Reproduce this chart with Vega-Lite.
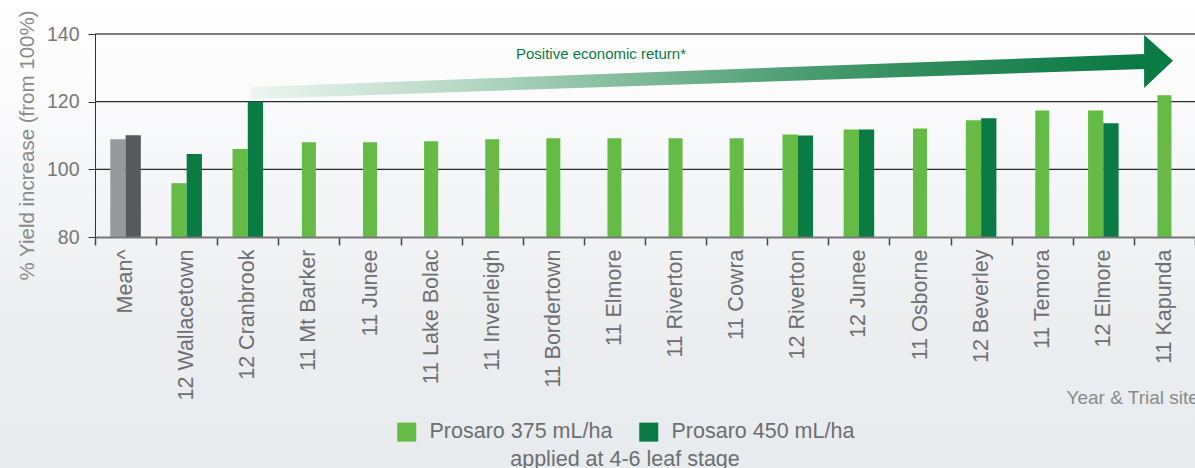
{
  "$schema": "https://vega.github.io/schema/vega-lite/v6.json",
  "width": 1100,
  "height": 203,
  "autosize": "none",
  "padding": {"left": 95, "top": 34, "right": 0, "bottom": 231},
  "background": "#f4f5f6",
  "config": {
    "font": "Liberation Sans",
    "view": {"stroke": null, "fill": null}
  },
  "datasets": {
    "bars": [
      {"site": "Mean^", "rate": "375", "series": "Mean 375", "value": 108.9},
      {"site": "Mean^", "rate": "450", "series": "Mean 450", "value": 110.1},
      {"site": "12 Wallacetown", "rate": "375", "series": "Prosaro 375 mL/ha", "value": 95.9},
      {"site": "12 Wallacetown", "rate": "450", "series": "Prosaro 450 mL/ha", "value": 104.5},
      {"site": "12 Cranbrook", "rate": "375", "series": "Prosaro 375 mL/ha", "value": 106.0},
      {"site": "12 Cranbrook", "rate": "450", "series": "Prosaro 450 mL/ha", "value": 120.0},
      {"site": "11 Mt Barker", "rate": "375", "series": "Prosaro 375 mL/ha", "value": 108.0},
      {"site": "11 Junee", "rate": "375", "series": "Prosaro 375 mL/ha", "value": 108.0},
      {"site": "11 Lake Bolac", "rate": "375", "series": "Prosaro 375 mL/ha", "value": 108.3},
      {"site": "11 Inverleigh", "rate": "375", "series": "Prosaro 375 mL/ha", "value": 108.9},
      {"site": "11 Bordertown", "rate": "375", "series": "Prosaro 375 mL/ha", "value": 109.2},
      {"site": "11 Elmore", "rate": "375", "series": "Prosaro 375 mL/ha", "value": 109.2},
      {"site": "11 Riverton", "rate": "375", "series": "Prosaro 375 mL/ha", "value": 109.2},
      {"site": "11 Cowra", "rate": "375", "series": "Prosaro 375 mL/ha", "value": 109.2},
      {"site": "12 Riverton", "rate": "375", "series": "Prosaro 375 mL/ha", "value": 110.3},
      {"site": "12 Riverton", "rate": "450", "series": "Prosaro 450 mL/ha", "value": 110.0},
      {"site": "12 Junee", "rate": "375", "series": "Prosaro 375 mL/ha", "value": 111.8},
      {"site": "12 Junee", "rate": "450", "series": "Prosaro 450 mL/ha", "value": 111.8},
      {"site": "11 Osborne", "rate": "375", "series": "Prosaro 375 mL/ha", "value": 112.1},
      {"site": "12 Beverley", "rate": "375", "series": "Prosaro 375 mL/ha", "value": 114.5},
      {"site": "12 Beverley", "rate": "450", "series": "Prosaro 450 mL/ha", "value": 115.1},
      {"site": "11 Temora", "rate": "375", "series": "Prosaro 375 mL/ha", "value": 117.4},
      {"site": "12 Elmore", "rate": "375", "series": "Prosaro 375 mL/ha", "value": 117.4},
      {"site": "12 Elmore", "rate": "450", "series": "Prosaro 450 mL/ha", "value": 113.6},
      {"site": "11 Kapunda", "rate": "375", "series": "Prosaro 375 mL/ha", "value": 121.9}
    ],
    "backdrop": [
      {"u0": -1.7, "u1": 18.2, "v0": 10.5, "v1": 151.5}
    ],
    "gridlines": [
      {"v": 100}, {"v": 120}, {"v": 140}
    ],
    "arrow": [
      {"u": 2.546, "top": 124.33, "bottom": 120.79},
      {"u": 17.167, "top": 134.09, "bottom": 129.66},
      {"u": 17.168, "top": 139.7, "bottom": 124.04},
      {"u": 17.64, "top": 132.11, "bottom": 132.11}
    ],
    "note": [
      {"u": 8.28, "v": 132.5, "label": "Positive economic return*"}
    ]
  },
  "layer": [
    {
      "data": {"name": "backdrop"},
      "mark": {"type": "rect", "clip": false, "color": {"gradient": "linear", "x1": 0, "y1": 0, "x2": 0, "y2": 1, "stops": [{"offset": 0, "color": "#ffffff"}, {"offset": 0.2, "color": "#fbfbfc"}, {"offset": 0.5, "color": "#f1f3f5"}, {"offset": 0.65, "color": "#eceef0"}, {"offset": 1, "color": "#e8ebee"}]}},
      "encoding": {
        "x": {"field": "u0", "type": "quantitative", "scale": {"domain": [0, 18], "nice": false, "zero": false}, "axis": null},
        "x2": {"field": "u1"},
        "y": {"field": "v0", "type": "quantitative", "title": "% Yield increase (from 100%)"},
        "y2": {"field": "v1"}
      }
    },
    {
      "data": {"name": "gridlines"},
      "mark": {"type": "rule", "strokeWidth": 1.3},
      "encoding": {
        "y": {"field": "v", "type": "quantitative", "title": "% Yield increase (from 100%)"},
        "color": {"condition": {"test": "datum.v == 140", "value": "#555555"}, "value": "#2b2b2b"}
      }
    },
    {
      "data": {"name": "bars"},
      "layer": [
        {
          "transform": [
            {"joinaggregate": [{"op": "count", "as": "n"}], "groupby": ["site"]},
            {"filter": "datum.n == 2"}
          ],
          "mark": {"type": "bar"},
          "encoding": {
            "x": {
              "field": "site", "type": "nominal",
              "scale": {"domain": ["Mean^", "12 Wallacetown", "12 Cranbrook", "11 Mt Barker", "11 Junee", "11 Lake Bolac", "11 Inverleigh", "11 Bordertown", "11 Elmore", "11 Riverton", "11 Cowra", "12 Riverton", "12 Junee", "11 Osborne", "12 Beverley", "11 Temora", "12 Elmore", "11 Kapunda"], "paddingInner": 0, "paddingOuter": 0},
              "axis": {
                "title": "Year & Trial site",
                "tickBand": "extent",
                "labelAngle": -90, "labelAlign": "right", "labelBaseline": "middle",
                "labelFontSize": 21.5, "labelColor": "#6d6e71", "labelPadding": 4, "labelLimit": 300,
                "tickSize": 8, "tickColor": "#444444", "tickWidth": 1.5,
                "domainColor": "#777777", "domainWidth": 2, "zindex": 2,
                "titleFontSize": 19, "titleFontWeight": "normal", "titleColor": "#8a8a8a",
                "titleX": 971, "titleY": 166, "titleAlign": "left", "titleBaseline": "alphabetic", "titleAnchor": "start"
              }
            },
            "xOffset": {"field": "rate", "type": "nominal", "scale": {"domain": ["375", "450"], "paddingInner": 0, "paddingOuter": 1.182}},
            "y": {
              "field": "value", "type": "quantitative",
              "title": "% Yield increase (from 100%)",
              "scale": {"domain": [80, 140], "nice": false, "zero": false},
              "axis": {
                "values": [80, 100, 120, 140],
                "title": "% Yield increase (from 100%)",
                "titleFontSize": 20.5, "titleFontWeight": "normal", "titleColor": "#8a8a8a",
                "titleAngle": -90, "titleX": -62, "titleY": 111, "titleAlign": "center", "titleBaseline": "alphabetic",
                "labelFontSize": 19.5, "labelColor": "#777777", "labelPadding": 9,
                "tickSize": 7, "tickColor": "#333333", "domainColor": "#333333",
                "grid": false, "zindex": 2
              }
            },
            "y2": {"datum": 80},
            "color": {
              "field": "series", "type": "nominal",
              "scale": {"domain": ["Prosaro 375 mL/ha", "Prosaro 450 mL/ha", "Mean 375", "Mean 450"], "range": ["#66bb47", "#0a7b45", "#98999b", "#58595b"]},
              "legend": {
                "values": ["Prosaro 375 mL/ha", "Prosaro 450 mL/ha"],
                "title": "applied at 4-6 leaf stage",
                "orient": "none", "legendX": 301, "legendY": 387,
                "direction": "horizontal", "zindex": 2,
                "symbolType": "square", "symbolSize": 361, "symbolStrokeWidth": 0, "symbolOpacity": 1,
                "labelFontSize": 21.5, "labelColor": "#6d6e71", "labelOffset": 12, "labelLimit": 0,
                "columnPadding": 25,
                "titleOrient": "bottom", "titleAnchor": "middle", "titleLimit": 500,
                "titleFontSize": 21.5, "titleFontWeight": "normal", "titleColor": "#6d6e71", "titlePadding": 6,
                "padding": 0
              }
            }
          }
        },
        {
          "transform": [
            {"joinaggregate": [{"op": "count", "as": "n"}], "groupby": ["site"]},
            {"filter": "datum.n == 1"}
          ],
          "mark": {"type": "bar", "width": 14},
          "encoding": {
            "x": {"field": "site", "type": "nominal"},
            "y": {"field": "value", "type": "quantitative", "title": "% Yield increase (from 100%)"},
            "y2": {"datum": 80},
            "color": {"field": "series", "type": "nominal"}
          }
        }
      ]
    },
    {
      "data": {"name": "arrow"},
      "mark": {"type": "area", "clip": false, "color": {"gradient": "linear", "x1": 0, "y1": 0, "x2": 1, "y2": 0, "stops": [{"offset": 0, "color": "#eef5f1"}, {"offset": 0.23, "color": "#b6d8c5"}, {"offset": 0.59, "color": "#4d9e72"}, {"offset": 0.74, "color": "#2e8b5a"}, {"offset": 0.95, "color": "#0b7a45"}, {"offset": 1, "color": "#0a7a45"}]}},
      "encoding": {
        "x": {"field": "u", "type": "quantitative", "scale": {"domain": [0, 18], "nice": false, "zero": false}, "axis": null},
        "y": {"field": "top", "type": "quantitative", "title": "% Yield increase (from 100%)"},
        "y2": {"field": "bottom"}
      }
    },
    {
      "data": {"name": "note"},
      "mark": {"type": "text", "align": "center", "baseline": "alphabetic", "fontSize": 15, "color": "#0a7a45"},
      "encoding": {
        "x": {"field": "u", "type": "quantitative", "scale": {"domain": [0, 18], "nice": false, "zero": false}, "axis": null},
        "y": {"field": "v", "type": "quantitative", "title": "% Yield increase (from 100%)"},
        "text": {"field": "label"}
      }
    }
  ],
  "resolve": {"scale": {"x": "independent"}, "axis": {"x": "independent"}}
}
